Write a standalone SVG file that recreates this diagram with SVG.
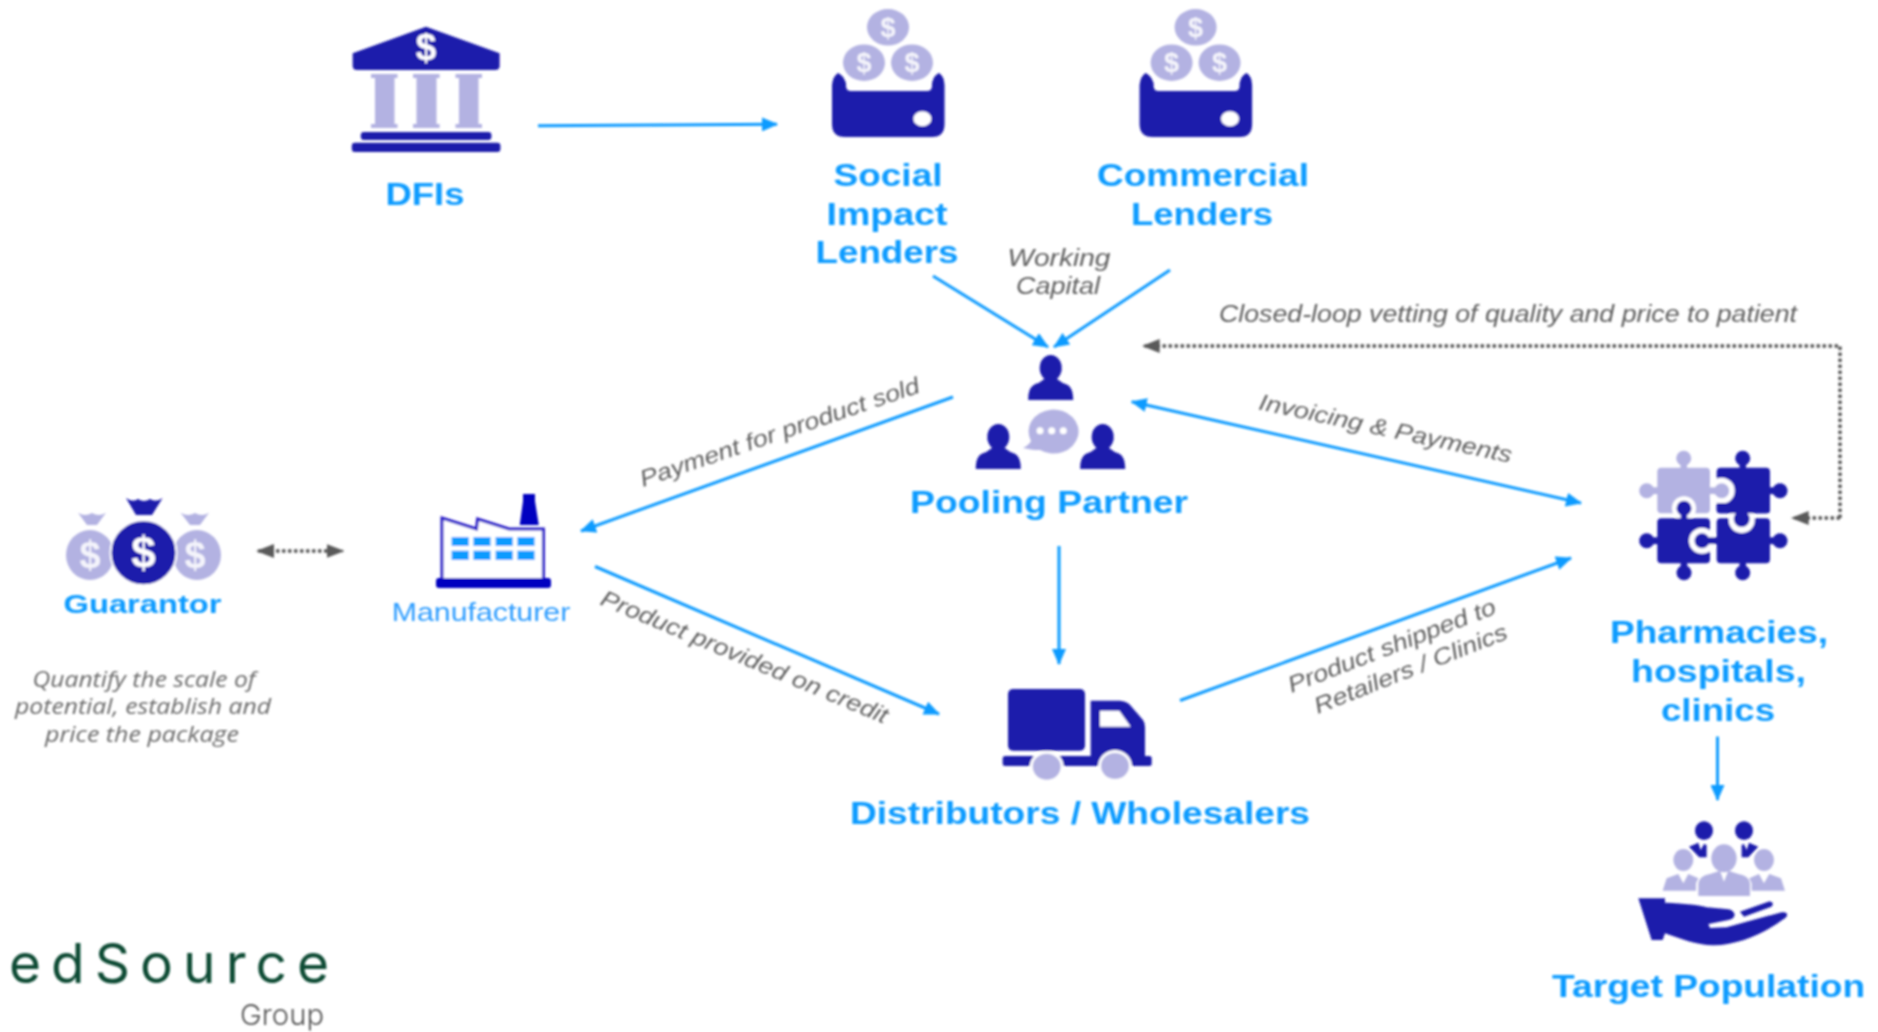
<svg xmlns="http://www.w3.org/2000/svg" width="1878" height="1032" viewBox="0 0 1878 1032">
<style>
text{font-family:"Liberation Sans",Arial,sans-serif;text-anchor:middle}
.lb{font-weight:700;font-size:31px;fill:#0a9bff}
.nt{font-style:italic;font-size:23px;fill:#5f5f5f}
.q{font-family:"Open Sans",sans-serif;font-style:italic;font-size:21px;fill:#6a6a6a}
.d{fill:#1c1aab}.l{fill:#b3b2e2}.w{fill:#fff}
.ds{font-weight:700;fill:#fff}
.dl{font-weight:700;fill:#f4f4fb}
.a{fill:none;stroke:#0d9bff;stroke-width:3;marker-end:url(#ah)}
.b{fill:none;stroke:#5a5a5a;stroke-width:3.5;stroke-dasharray:3.5 2.5}
</style>
<defs>
<filter id="soft" x="0" y="0" width="1878" height="1032" filterUnits="userSpaceOnUse"><feGaussianBlur stdDeviation="0.8"/></filter>
<marker id="ah" markerUnits="userSpaceOnUse" markerWidth="16" markerHeight="14" refX="15" refY="7" orient="auto-start-reverse"><path d="M0,0L16,7L0,14Z" fill="#0d9bff"/></marker>
<marker id="gh" markerUnits="userSpaceOnUse" markerWidth="18" markerHeight="14" refX="16" refY="7" orient="auto-start-reverse"><path d="M0,0L18,7L0,14Z" fill="#5a5a5a"/></marker>
<g id="wallet">
<path class="d" d="M832,85Q833,76 838,73Q843,75 846,83L846,86Q846,91 851,91L927,91Q932,91 932,86L932,83Q934,75 939,73Q944,76 944.5,85L944.5,124Q944.5,137 932,137L845,137Q832,137 832,124Z"/>
<ellipse class="w" cx="922.4" cy="118.7" rx="9" ry="7.5"/>
<ellipse class="l" cx="888" cy="27.3" rx="21" ry="18.3"/><ellipse class="l" cx="864" cy="62.7" rx="21" ry="18.3"/><ellipse class="l" cx="912" cy="62.7" rx="21" ry="18.3"/>
<text class="dl" x="888" y="37" font-size="27">$</text><text class="dl" x="864" y="72" font-size="27">$</text><text class="dl" x="912" y="72" font-size="27">$</text>
</g>
<g id="person"><ellipse class="d" cx="0" cy="0" rx="11" ry="13"/><path class="d" d="M-22.5,32C-22.5,22 -20,17 -12,15L-5,10L5,10L12,15C20,17 22.5,22 22.5,32Z"/></g>
</defs>
<rect width="1878" height="1032" fill="#fff"/>
<g filter="url(#soft)">
<g id="connectors">
<path class="a" d="M538,125.7L777,124.3"/>
<path class="a" d="M933,276L1048,347"/>
<path class="a" d="M1170,270L1054,347"/>
<path class="a" d="M953,397L581,531"/>
<path class="a" d="M1131.7,401.7L1581,503" style="marker-start:url(#ah)"/>
<path class="a" d="M595,566.5L939,714"/>
<path class="a" d="M1059,546L1059,664"/>
<path class="a" d="M1180,700.5L1571,558"/>
<path class="a" d="M1717.5,736.6L1717.5,800"/>
<path class="b" d="M1840,518V346H1143.7" style="marker-end:url(#gh)"/>
<path class="b" d="M1840,518H1792.7" style="marker-end:url(#gh)"/>
<path class="b" d="M258,551H342.5" style="marker-start:url(#gh);marker-end:url(#gh)"/>
</g>
<g id="node-dfis">
<path class="d" d="M426,26.7L352.7,53.3V66Q352.7,70 357,70H495Q499.6,70 499.6,66V53.3Z"/>
<text class="ds" x="426" y="60" font-size="37">$</text>
<path class="l" d="M371,74H397.5V78H394.5V124H397.5V128H371V124H375V78H371Z"/>
<path class="l" d="M413,74H439.6V78H436.5V124H439.6V128H413V124H416.5V78H413Z"/>
<path class="l" d="M455.5,74H482V78H478.5V124H482V128H455.5V124H459V78H455.5Z"/>
<rect class="d" x="360.8" y="132" width="130.6" height="8" rx="3"/>
<rect class="d" x="351.8" y="142.7" width="148.6" height="9.3" rx="3"/>
<text class="lb" x="425" y="205" textLength="79" lengthAdjust="spacingAndGlyphs">DFIs</text>
</g>
<g id="node-social">
<use href="#wallet"/>
<text class="lb" x="888" y="186" textLength="109" lengthAdjust="spacingAndGlyphs">Social</text>
<text class="lb" x="887" y="225" textLength="121" lengthAdjust="spacingAndGlyphs">Impact</text>
<text class="lb" x="887" y="263" textLength="143" lengthAdjust="spacingAndGlyphs">Lenders</text>
</g>
<g id="node-commercial">
<use href="#wallet" x="307.6"/>
<text class="lb" x="1203" y="186" textLength="212" lengthAdjust="spacingAndGlyphs">Commercial</text>
<text class="lb" x="1202" y="225" textLength="142" lengthAdjust="spacingAndGlyphs">Lenders</text>
</g>
<g id="node-pooling">
<use href="#person" x="1050.7" y="368"/><use href="#person" x="998.3" y="437"/><use href="#person" x="1102.7" y="437"/>
<path class="l" d="M1023,448Q1029,445 1031,441A25,22 0 1 1 1040,450Q1032,450 1023,448Z"/>
<circle class="w" cx="1040" cy="430.7" r="3.5"/><circle class="w" cx="1051.7" cy="430.7" r="3.5"/><circle class="w" cx="1063.3" cy="430.7" r="3.5"/>
<text class="lb" x="1049" y="513" textLength="278" lengthAdjust="spacingAndGlyphs">Pooling Partner</text>
</g>
<g id="node-guarantor">
<path class="l" d="M78,512.7Q85,517 92,513Q99,517 106,512.7L97,525H87Z"/><path class="l" d="M180.6,512.7Q188,517 195,513Q202,517 209,512.7L200,525H190Z"/>
<ellipse class="l" cx="90" cy="555" rx="24" ry="25"/><ellipse class="l" cx="197" cy="555" rx="24" ry="25"/>
<text class="dl" x="90" y="568" font-size="38">$</text><text class="dl" x="195" y="568" font-size="38">$</text>
<ellipse class="d" cx="143.5" cy="552.7" rx="33" ry="32.5" stroke="#fff" stroke-width="2"/>
<path class="d" d="M126,498Q133,503 138,499Q144,503 150,499Q156,503 162.6,498L152,515H136Z"/>
<text class="ds" x="143.5" y="568" font-size="44">$</text>
<text class="lb" x="142.5" y="612.7" style="font-size:26px" textLength="158" lengthAdjust="spacingAndGlyphs">Guarantor</text>
<text class="q" x="144" y="686.7" textLength="223" lengthAdjust="spacingAndGlyphs">Quantify the scale of</text>
<text class="q" x="143" y="714" textLength="256" lengthAdjust="spacingAndGlyphs">potential, establish and</text>
<text class="q" x="142" y="741.7" textLength="194" lengthAdjust="spacingAndGlyphs">price the package</text>
</g>
<g id="node-manufacturer">
<path d="M442,578V518L476.5,529L477.6,519L509,529H543.4V578" fill="#fff" stroke="#2a1fc8" stroke-width="3"/>
<path d="M519.7,525L523,501V494H535V501L538.8,525Z" fill="#0000c0"/>
<rect x="436" y="578" width="115" height="10" rx="3" fill="#0000c0"/>
<g fill="#0a9bff">
<rect x="451.6" y="537" width="17.2" height="9"/><rect x="473.4" y="537" width="17.2" height="9"/><rect x="495.6" y="537" width="17.2" height="9"/><rect x="517.4" y="537" width="17.2" height="9"/>
<rect x="451.6" y="550.7" width="17.2" height="9.3"/><rect x="473.4" y="550.7" width="17.2" height="9.3"/><rect x="495.6" y="550.7" width="17.2" height="9.3"/><rect x="517.4" y="550.7" width="17.2" height="9.3"/>
</g>
<text x="481" y="621" font-size="25" fill="#2f9dff" textLength="178.5" lengthAdjust="spacingAndGlyphs">Manufacturer</text>
</g>
<g id="node-distributors">
<rect class="d" x="1008" y="689" width="77" height="61.7" rx="5"/>
<path class="d" d="M1090.7,700.7H1120Q1126,701 1130,705L1143,720Q1145,723 1145,727V757H1090.7Z"/>
<path class="w" d="M1100,710.7H1119.3L1130.7,726.7H1100Z"/>
<rect class="d" x="1002.7" y="756" width="149" height="10" rx="2.5"/>
<ellipse class="w" cx="1046.7" cy="766.7" rx="17" ry="16"/><ellipse class="w" cx="1115" cy="766" rx="17" ry="16"/>
<ellipse class="l" cx="1046.7" cy="766.7" rx="14" ry="13"/><ellipse class="l" cx="1115" cy="766" rx="14" ry="13"/>
<text class="lb" x="1080" y="824" textLength="460" lengthAdjust="spacingAndGlyphs">Distributors / Wholesalers</text>
</g>
<g id="node-pharmacies">
<g class="d"><rect x="1716.7" y="467.7" width="53.3" height="45.6" rx="4"/><circle cx="1742.7" cy="458.3" r="7.5"/><rect x="1739.5" y="460" width="6.5" height="10"/><circle cx="1780" cy="490.7" r="7.5"/><rect x="1768" y="487.3" width="8" height="6.8"/></g>
<circle class="w" cx="1721.7" cy="490.7" r="13"/>
<g class="l"><rect x="1657.3" y="467.7" width="52.7" height="45.6" rx="4"/><circle cx="1683.7" cy="458.3" r="7.5"/><rect x="1680.5" y="460" width="6.5" height="10"/><circle cx="1646.7" cy="490.7" r="7.5"/><rect x="1650" y="487.3" width="9" height="6.8"/><circle cx="1721.7" cy="490.7" r="7.5"/><rect x="1708" y="487.3" width="9" height="6.8"/></g>
<circle class="w" cx="1684" cy="508.3" r="12"/>
<g class="d"><rect x="1657.3" y="518.3" width="52.7" height="45" rx="4"/><circle cx="1646.7" cy="540.7" r="7.5"/><rect x="1650" y="537.3" width="9" height="6.8"/><circle cx="1684" cy="572.7" r="7.5"/><rect x="1680.7" y="561" width="6.5" height="7"/><circle cx="1684" cy="508.3" r="7.5"/><rect x="1680.7" y="512" width="6.5" height="8"/></g>
<circle class="w" cx="1702" cy="540.7" r="13"/>
<g class="d"><rect x="1716.7" y="518.3" width="53.3" height="45" rx="4"/><circle cx="1780" cy="540.7" r="7.5"/><rect x="1768" y="537.3" width="8" height="6.8"/><circle cx="1742.7" cy="572.7" r="7.5"/><rect x="1739.5" y="561" width="6.5" height="7"/><circle cx="1702" cy="540.7" r="7.5"/><rect x="1706" y="537.3" width="12" height="6.8"/></g>
<circle class="w" cx="1741.7" cy="520" r="13"/>
<g class="d"><rect x="1716.7" y="503" width="53.3" height="10.3" rx="3"/><circle cx="1741.7" cy="519" r="8"/></g>
<text class="lb" x="1719" y="643" textLength="218" lengthAdjust="spacingAndGlyphs">Pharmacies,</text>
<text class="lb" x="1718.5" y="682" textLength="175" lengthAdjust="spacingAndGlyphs">hospitals,</text>
<text class="lb" x="1718" y="721" textLength="114" lengthAdjust="spacingAndGlyphs">clinics</text>
</g>
<g id="node-target">
<g transform="translate(1540,800) scale(0.3333)">
<ellipse class="d" cx="492" cy="92" rx="27" ry="28"/><ellipse class="d" cx="612" cy="92" rx="27" ry="28"/>
<path class="d" d="M447,140L475,128L482,150L492,132L500,135V172H478Z"/>
<path class="d" d="M655,140L627,128L620,150L612,132L605,135V172H625Z"/>
<path class="l" d="M475,288V250Q478,228 510,222L540,212L552,245L565,212L595,222Q628,228 630,250V288Z"/>
<ellipse class="l" cx="552" cy="175" rx="38" ry="42"/>
<ellipse class="l" cx="430" cy="180" rx="30" ry="33"/><ellipse class="l" cx="672" cy="180" rx="30" ry="33"/>
<path class="l" d="M368,272L380,235L415,222L430,250L445,222L475,235L468,250V272Z"/>
<path class="l" d="M735,272L723,235L688,222L672,250L657,222L628,235L635,250V272Z"/>
<path class="d" d="M295,295H375V308C430,310 480,315 500,322L565,328C590,333 590,355 565,360L505,372L510,384L560,382L720,338C745,332 748,348 730,358C680,395 600,435 520,436C470,436 420,415 375,400L368,420H335Z"/>
<path class="d" d="M600,335L685,305C702,303 702,318 690,322L612,350Z"/>
</g>
<text class="lb" x="1708.6" y="997" textLength="313" lengthAdjust="spacingAndGlyphs">Target Population</text>
</g>
<g id="labels">
<text class="nt" x="1059" y="266" textLength="103" lengthAdjust="spacingAndGlyphs">Working</text>
<text class="nt" x="1058" y="293.7" textLength="84" lengthAdjust="spacingAndGlyphs">Capital</text>
<text class="nt" x="1508" y="322" textLength="578" lengthAdjust="spacingAndGlyphs">Closed-loop vetting of quality and price to patient</text>
<text class="nt" transform="translate(782,439.5) rotate(-18.9)" textLength="294" lengthAdjust="spacingAndGlyphs">Payment for product sold</text>
<text class="nt" transform="translate(1384,436) rotate(12)" textLength="258" lengthAdjust="spacingAndGlyphs">Invoicing &amp; Payments</text>
<text class="nt" transform="translate(741.5,664) rotate(22.8)" textLength="309" lengthAdjust="spacingAndGlyphs">Product provided on credit</text>
<text class="nt" transform="translate(1394.5,653) rotate(-21.2)" textLength="221" lengthAdjust="spacingAndGlyphs">Product shipped to</text>
<text class="nt" transform="translate(1413.5,676) rotate(-21.6)" textLength="206" lengthAdjust="spacingAndGlyphs">Retailers / Clinics</text>
</g>
<g id="logo">
<text x="169" y="983" font-size="55" fill="#0f4c35" style="font-family:Inter,'Liberation Sans',sans-serif;font-weight:400" textLength="320">edSource</text>
<text x="282" y="1025" font-size="29" fill="#555" textLength="84" lengthAdjust="spacingAndGlyphs" style="font-family:Inter,'Liberation Sans',sans-serif;font-weight:300">Group</text>
</g>
</g>
</svg>
